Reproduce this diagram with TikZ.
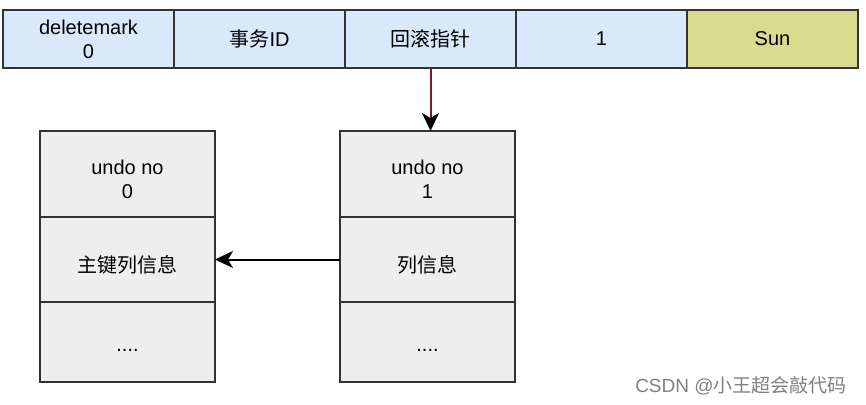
\documentclass[tikz,border=0pt]{standalone}
\usepackage{fontspec}
\setmainfont{Liberation Sans}
\newfontfamily\cjk{Noto Sans CJK SC}
\usepackage{tikz}
\usetikzlibrary{positioning}
\usetikzlibrary{arrows.meta}
\definecolor{rowblue}{HTML}{DAE8FC}
\definecolor{rowolive}{HTML}{D9DC8E}
\definecolor{boxgray}{HTML}{EEEEEE}
\definecolor{linegray}{HTML}{333333}
\definecolor{ptrred}{HTML}{7A1C2C}

\begin{document}
\begin{tikzpicture}[x=1pt, y=-1pt, node distance=0pt, line width=2pt,
    cell/.style = {draw=linegray, fill=rowblue, outer sep=0pt, minimum width=171pt, minimum height=58pt, align=center, font=\fontsize{20}{24}\selectfont},
    slot/.style = {draw=linegray, fill=boxgray, outer sep=0pt, minimum width=175pt, minimum height=85pt, align=center, font=\fontsize{20}{24}\selectfont},
    head/.style = {slot, minimum height=86pt, text height=48pt, text depth=0pt},
    info/.style = {slot, text height=28pt, text depth=2pt},
    rest/.style = {slot, minimum height=80pt, text height=18pt, text depth=0pt},
    >={Stealth[length=18pt, width=17pt, inset=5pt]}]
    \useasboundingbox (0,0) rectangle (866,404);
    % record row
    \node[cell, anchor=north west] (mark) at (3,10) {deletemark\\0};
    \node[cell] (trx) [right=of mark] {{\cjk 事务}ID};
    \node[cell] (ptr) [right=of trx] {{\cjk 回滚指针}};
    \node[cell] (id) [right=of ptr] {1};
    \node[cell, fill=rowolive] (name) [right=of id] {Sun};
    % undo log 1
    \node[head, anchor=north west] (u1) at (340,131) {undo no\\1};
    \node[info] (c1) [below=of u1] {{\cjk 列信息}};
    \node[rest] (d1) [below=of c1] {....};
    % undo log 0
    \node[head, anchor=north west] (u0) at (40,131) {undo no\\0};
    \node[info] (c0) [below=of u0] {{\cjk 主键列信息}};
    \node[rest] (d0) [below=of c0] {....};
    \draw[ptrred, -{Stealth[length=18pt, width=17pt, inset=5pt, black]}] (ptr.south) -- (ptr.south |- u1.north);
    \draw[->, black] (c1.west) -- (c0.east);
    \node[anchor=east, text=gray, font=\fontsize{19}{22}\selectfont] (wm) at (851,386) {CSDN @{\cjk 小王超会敲代码}};
\end{tikzpicture}
\end{document}
